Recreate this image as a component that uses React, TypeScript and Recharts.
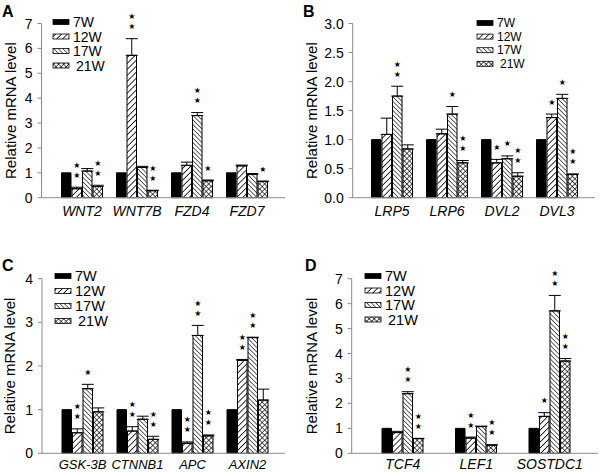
import React from 'react';
import { BarChart, Bar, XAxis, YAxis, ErrorBar, LabelList } from 'recharts';

const weeks = ['7W', '12W', '17W', '21W'];

// Panel A
const genesA = ['WNT2', 'WNT7B', 'FZD4', 'FZD7'];
const meansA = [
  [1, 1, 1, 1],
  [0.36, 5.72, 1.3, 1.28],
  [1.07, 1.22, 3.3, 0.94],
  [0.45, 0.28, 0.68, 0.65],
];
const errsA = [
  [0, 0, 0, 0],
  [0.06, 0.67, 0.13, 0.03],
  [0.1, 0.04, 0.12, 0.03],
  [0.05, 0.02, 0.03, 0.02],
];
const starsA = [
  ['', '', '', ''],
  ['**', '**', '', ''],
  ['', '', '**', ''],
  ['**', '**', '*', '*'],
];
const ticksA = [0, 1, 2, 3, 4, 5, 6, 7];

// Panel B
const genesB = ['LRP5', 'LRP6', 'DVL2', 'DVL3'];
const meansB = [
  [1, 1, 1, 1],
  [1.09, 1.1, 0.6, 1.38],
  [1.75, 1.44, 0.67, 1.71],
  [0.84, 0.6, 0.37, 0.4],
];
const errsB = [
  [0, 0, 0, 0],
  [0.28, 0.08, 0.06, 0.06],
  [0.17, 0.13, 0.05, 0.07],
  [0.07, 0.04, 0.06, 0.01],
];
const starsB = [
  ['', '', '', ''],
  ['', '', '*', '*'],
  ['**', '*', '*', '*'],
  ['', '**', '**', '**'],
];
const ticksB = [0, 0.5, 1, 1.5, 2, 2.5, 3];

// Panel C
const genesC = ['GSK-3B', 'CTNNB1', 'APC', 'AXIN2'];
const meansC = [
  [1, 1, 1, 1],
  [0.47, 0.51, 0.23, 2.13],
  [1.48, 0.78, 2.7, 2.65],
  [0.95, 0.32, 0.4, 1.22],
];
const errsC = [
  [0, 0, 0, 0],
  [0.09, 0.1, 0.03, 0.02],
  [0.1, 0.07, 0.23, 0.01],
  [0.09, 0.07, 0.02, 0.25],
];
const starsC = [
  ['', '', '', ''],
  ['**', '**', '**', '**'],
  ['*', '', '**', '**'],
  ['', '**', '**', ''],
];
const ticksC = [0, 1, 2, 3, 4];

// Panel D
const genesD = ['TCF4', 'LEF1', 'SOSTDC1'];
const meansD = [
  [1, 1, 1],
  [0.83, 0.61, 1.48],
  [2.39, 1.07, 5.71],
  [0.59, 0.33, 3.7],
];
const errsD = [
  [0, 0, 0],
  [0.05, 0.04, 0.15],
  [0.08, 0.02, 0.62],
  [0.01, 0.01, 0.1],
];
const starsD = [
  ['', '', ''],
  ['', '**', '*'],
  ['**', '', '**'],
  ['**', '**', '**'],
];
const ticksD = [0, 1, 2, 3, 4, 5, 6, 7];

const FONT = "'Liberation Sans', Arial, sans-serif";

const patternDefs = (id: string) => (
  <defs>
    <pattern id={`${id}-1`} width={4.2} height={4.2} patternUnits="userSpaceOnUse" patternTransform="rotate(45)">
      <rect width={4.2} height={4.2} fill="#fff" />
      <line x1={0} y1={0} x2={0} y2={4.2} stroke="#000" strokeWidth={1.6} />
    </pattern>
    <pattern id={`${id}-2`} width={3.2} height={3.2} patternUnits="userSpaceOnUse" patternTransform="rotate(-45)">
      <rect width={3.2} height={3.2} fill="#fff" />
      <line x1={0} y1={0} x2={0} y2={3.2} stroke="#000" strokeWidth={1.2} />
    </pattern>
    <pattern id={`${id}-3`} width={3.6} height={3.6} patternUnits="userSpaceOnUse" patternTransform="rotate(45)">
      <rect width={3.6} height={3.6} fill="#fff" />
      <line x1={0} y1={0} x2={0} y2={3.6} stroke="#000" strokeWidth={1.3} />
      <line x1={0} y1={0} x2={3.6} y2={0} stroke="#000" strokeWidth={1.3} />
    </pattern>
  </defs>
);

const fillFor = (id: string, k: number) => (k === 0 ? '#000' : `url(#${id}-${k})`);

const starContent = (rows: any[], k: number) => (props: any) => {
  const { value, index } = props;
  if (!value) return null;
  const vb = props.viewBox || {};
  const x = Number(props.x ?? vb.x);
  const y = Number(props.y ?? vb.y);
  const w = Number(props.width ?? vb.width);
  const h = Number(props.height ?? vb.height);
  const row = rows[index];
  const unit = Math.abs(h) / row[`v${k}`];
  const top = Math.min(y, y + h) - row[`e${k}`][1] * unit;
  const cx = x + w / 2;
  return (
    <g>
      {String(value).split('').map((_, j) => (
        <text key={j} x={cx} y={top - 12 - j * 10} textAnchor="middle" dominantBaseline="central"
          fontSize={8} fontFamily="'DejaVu Sans'" fill="#000">★</text>
      ))}
    </g>
  );
};

const yTick = (decimals: number) => (props: any) => {
  const { x, y, payload } = props;
  return (
    <text x={x} y={y} textAnchor="end" dominantBaseline="central" fontSize={14} fontFamily={FONT} fill="#000">
      {Number(payload.value).toFixed(decimals)}
    </text>
  );
};

interface PanelProps {
  id: string;
  genes: string[];
  means: number[][];
  errs: number[][];
  stars: string[][];
  ticks: number[];
  left: number;
  top: number;
  yWidth: number;
  margin: { top: number; right: number; bottom: number; left: number };
  xHeight: number;
  pad: { left: number; right: number };
  xTickMargin: number;
  xFont: number;
  titleX: number;
  decimals: number;
}

const Panel: React.FC<PanelProps> = (p) => {
  const rows = p.genes.map((g, i) => {
    const r: any = { gene: g };
    weeks.forEach((_, k) => {
      r[`v${k}`] = p.means[k][i];
      r[`e${k}`] = [0, p.errs[k][i]];
      r[`s${k}`] = p.stars[k][i];
    });
    return r;
  });
  const max = p.ticks[p.ticks.length - 1];
  return (
    <div style={{ position: 'absolute', left: p.left, top: p.top }}>
      <BarChart width={300} height={236} data={rows} margin={p.margin} barSize={9.5} barGap={1}>
        {patternDefs(p.id)}
        <XAxis
          dataKey="gene"
          height={p.xHeight}
          padding={p.pad}
          tickLine={false}
          tickSize={6}
          tickMargin={p.xTickMargin}
          axisLine={{ stroke: '#8a8a8a' }}
          interval={0}
          tick={{ fill: '#000', fontSize: p.xFont, fontStyle: 'italic', fontFamily: FONT }}
        />
        <YAxis
          width={p.yWidth}
          domain={[0, max]}
          ticks={p.ticks}
          interval={0}
          tickSize={4}
          tickMargin={5}
          axisLine={{ stroke: '#8a8a8a' }}
          tickLine={{ stroke: '#8a8a8a' }}
          tick={yTick(p.decimals)}
          label={(lp: any) => {
            const vb = lp.viewBox || { y: p.margin.top, height: 174 };
            const cy = vb.y + vb.height / 2;
            return (
              <text x={p.titleX} y={cy} transform={`rotate(-90 ${p.titleX} ${cy})`} textAnchor="middle"
                dominantBaseline="central" fontSize={15} fontFamily={FONT} fill="#000">
                Relative mRNA level
              </text>
            );
          }}
        />
        {weeks.map((w, k) => (
          <Bar key={w} dataKey={`v${k}`} name={w} fill={fillFor(p.id, k)} stroke="#000" strokeWidth={1}
            isAnimationActive={false}>
            {k > 0 && (
              <ErrorBar dataKey={`e${k}`} width={6} stroke="#000" strokeWidth={1} direction="y"
                isAnimationActive={false} />
            )}
            {k > 0 && <LabelList dataKey={`s${k}`} content={starContent(rows, k)} />}
          </Bar>
        ))}
      </BarChart>
    </div>
  );
};

const Key: React.FC<{ x: number; y: number; step: number; size: number }> = ({ x, y, step, size }) => (
  <g>
    {weeks.map((w, k) => (
      <g key={w}>
        <rect x={x} y={y + k * step - 2.5} width={16} height={5} fill={fillFor('lg', k)} stroke="#000" strokeWidth={0.8} />
        <text x={x + 20 + (k === 3 ? 3 : 0)} y={y + k * step} dominantBaseline="central" fontSize={size}
          fontFamily={FONT} fill="#000">{w}</text>
      </g>
    ))}
  </g>
);

const letterStyle = { fontSize: 16, fontWeight: 700, fontFamily: FONT, fill: '#000' } as const;

export default function App() {
  return (
    <div style={{ position: 'absolute', left: 0, top: 0, width: 600, height: 472, background: '#fff', overflow: 'hidden' }}>
      <Panel id="pa" genes={genesA} means={meansA} errs={errsA} stars={starsA} ticks={ticksA}
        left={0} top={0} yWidth={41.5} margin={{ top: 23.5, right: 15, bottom: 0, left: 0 }}
        xHeight={38.3} pad={{ left: 13, right: 10.5 }} xTickMargin={2} xFont={14} titleX={11} decimals={0} />
      <Panel id="pb" genes={genesB} means={meansB} errs={errsB} stars={starsB} ticks={ticksB}
        left={300} top={0} yWidth={52.7} margin={{ top: 23.5, right: 5, bottom: 0, left: 0 }}
        xHeight={38.3} pad={{ left: 11.8, right: 10.5 }} xTickMargin={2} xFont={14} titleX={11.5} decimals={1} />
      <Panel id="pc" genes={genesC} means={meansC} errs={errsC} stars={starsC} ticks={ticksC}
        left={0} top={236} yWidth={42} margin={{ top: 42.7, right: 15, bottom: 0, left: 0 }}
        xHeight={18.7} pad={{ left: 13, right: 10 }} xTickMargin={0} xFont={13} titleX={9} decimals={0} />
      <Panel id="pd" genes={genesD} means={meansD} errs={errsD} stars={starsD} ticks={ticksD}
        left={300} top={236} yWidth={51.7} margin={{ top: 42.7, right: 2, bottom: 0, left: 0 }}
        xHeight={18.7} pad={{ left: 14.3, right: 11.5 }} xTickMargin={0} xFont={14} titleX={11.5} decimals={0} />
      <svg width={600} height={472} style={{ position: 'absolute', left: 0, top: 0, pointerEvents: 'none' }}>
        {patternDefs('lg')}
        <text x={2} y={17} {...letterStyle}>A</text>
        <text x={303} y={17} {...letterStyle}>B</text>
        <text x={2} y={271} {...letterStyle}>C</text>
        <text x={305} y={271} {...letterStyle}>D</text>
        <Key x={53} y={22} step={14.5} size={14} />
        <Key x={477} y={23} step={13.6} size={12} />
        <Key x={55} y={276} step={15} size={14.5} />
        <Key x={365} y={276} step={14.5} size={14.5} />
      </svg>
    </div>
  );
}
